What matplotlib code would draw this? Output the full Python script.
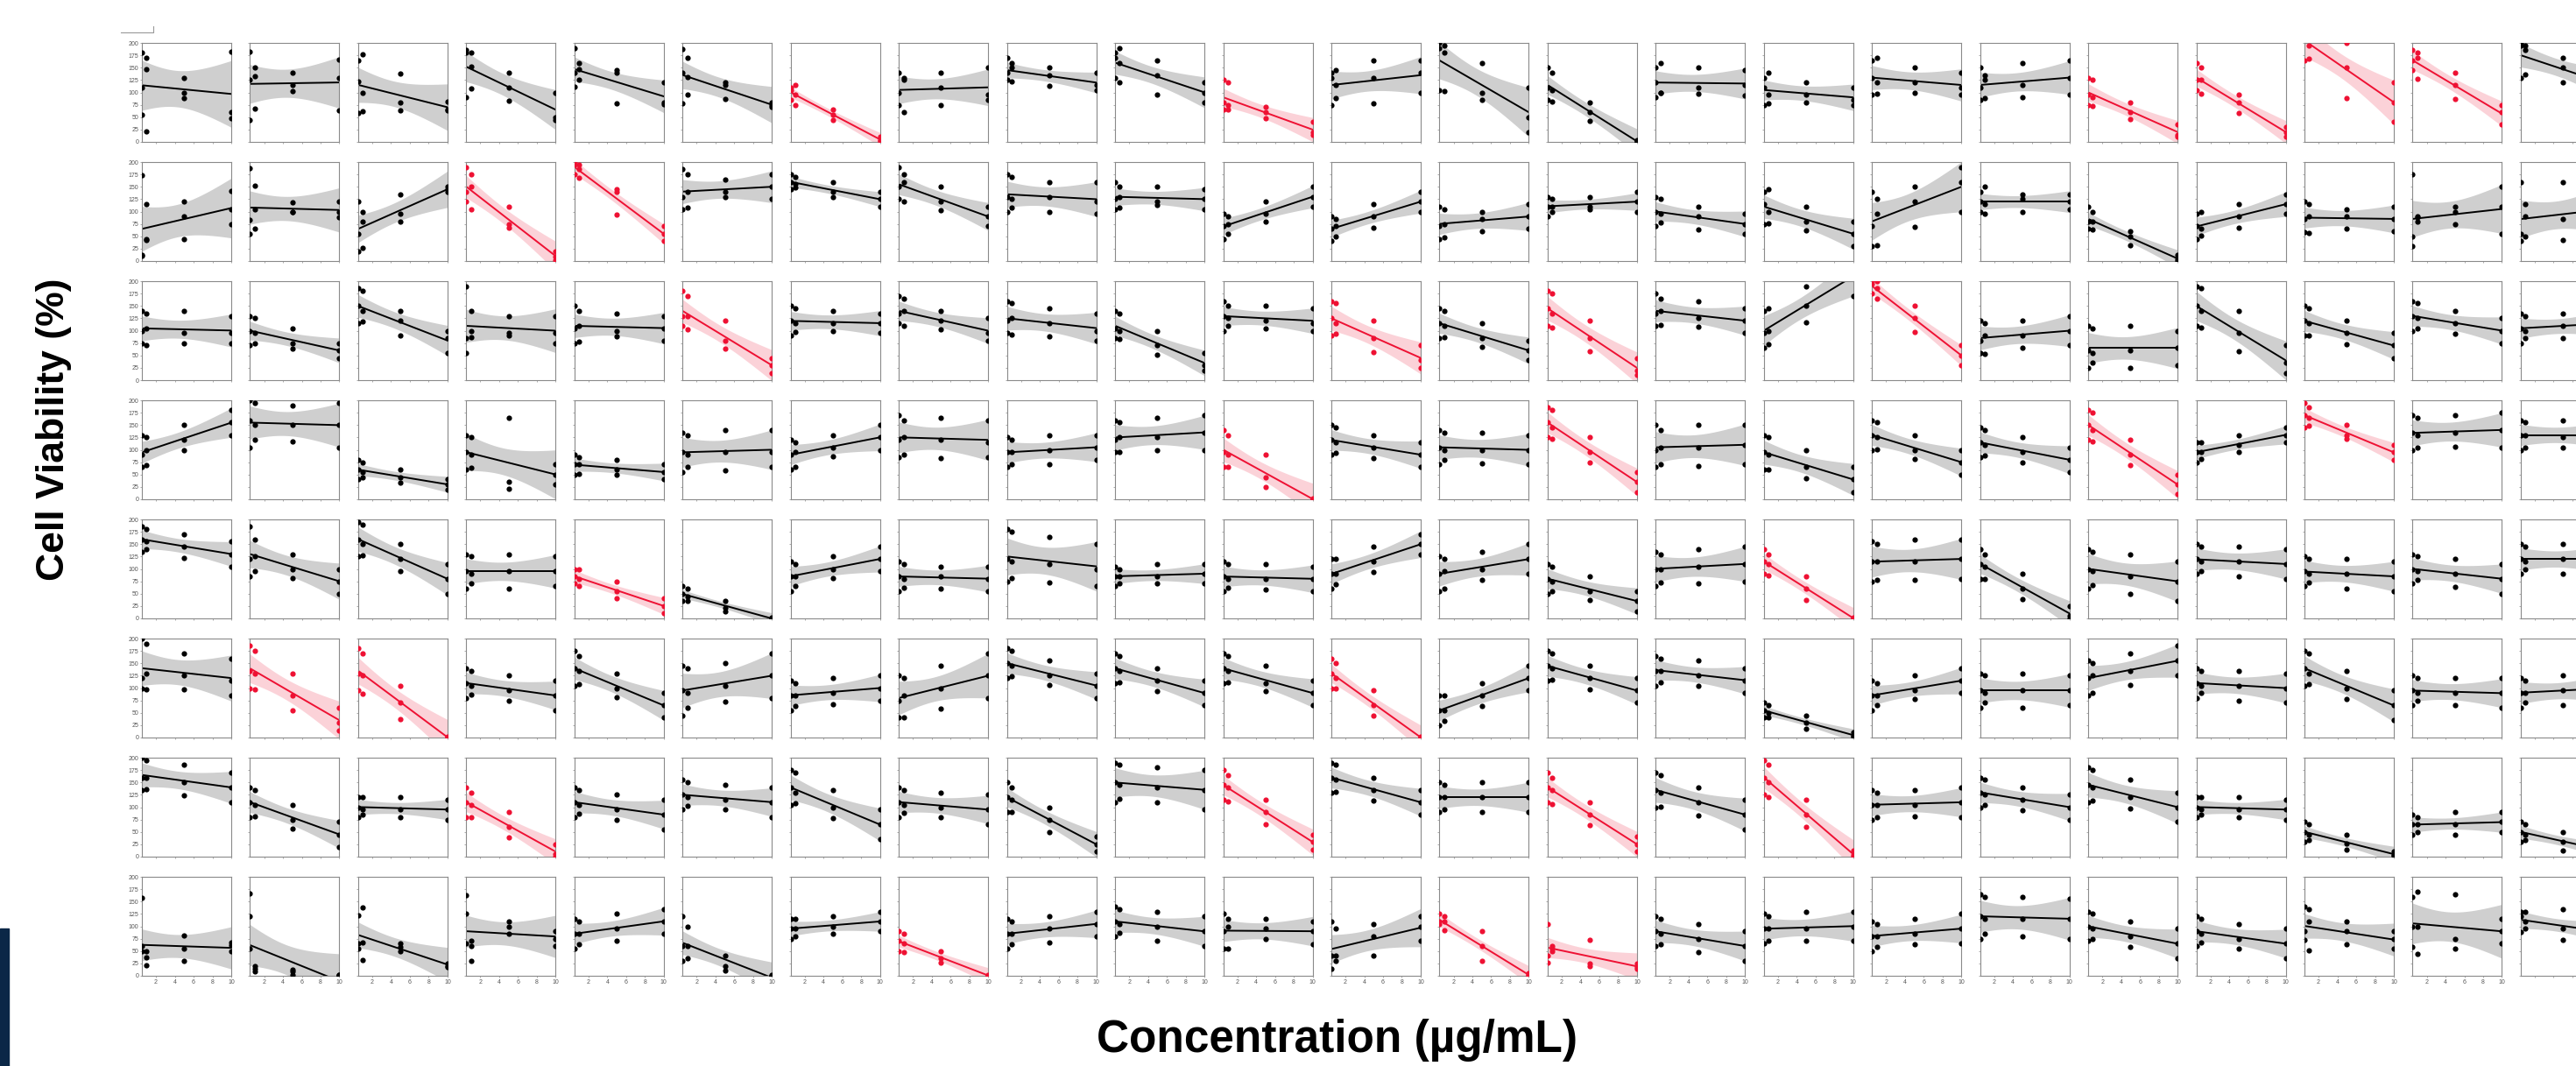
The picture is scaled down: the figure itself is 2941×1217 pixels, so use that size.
import numpy as np
import matplotlib
matplotlib.use("Agg")
import matplotlib.pyplot as plt
from matplotlib.patches import Rectangle
from matplotlib.lines import Line2D

# concentrations (µg/mL), 3 replicate wells each
conc = [0.5, 1, 5, 10]
n_rep = 3
y_ticks = [0, 25, 50, 75, 100, 125, 150, 175, 200]
x_ticks = [2, 4, 6, 8, 10]

# cell viability (%) per panel: 3 values at 0.5 | 1 | 5 | 10 µg/mL
row1 = ["180 110 55 | 147 170 22 | 100 88 130 | 183 60 48",
        "182 125 45 | 150 133 68 | 115 103 139 | 167 130 63",
        "165 122 58 | 177 100 62 | 138 80 64 | 82 65 63",
        "185 180 91 | 153 180 108 | 110 140 83 | 100 45 50",
        "190 140 111 | 125 160 147 | 145 140 78 | 120 80 76",
        "188 140 77 | 95 170 131 | 120 115 86 | 80 75 70",
        "110 105 85 | 115 95 75 | 65 55 45 | 10 3 2",
        "140 100 75 | 130 60 125 | 140 110 74 | 150 95 85",
        "170 140 125 | 160 150 122 | 135 150 114 | 140 115 105",
        "180 170 130 | 190 160 121 | 165 135 96 | 120 100 80",
        "125 80 65 | 120 75 66 | 70 60 47 | 40 20 15",
        "140 130 75 | 145 115 88 | 165 130 77 | 165 140 100",
        "200 190 105 | 195 180 102 | 160 100 85 | 110 50 20",
        "150 110 85 | 140 105 82 | 80 60 43 | 3 1 0",
        "150 120 90 | 160 100 100 | 150 110 97 | 145 115 94",
        "130 110 75 | 140 95 77 | 120 95 79 | 110 85 75",
        "165 130 95 | 170 120 97 | 150 120 99 | 140 110 95",
        "150 110 85 | 135 125 88 | 160 115 91 | 165 130 95",
        "130 95 75 | 125 90 73 | 80 60 46 | 35 15 10",
        "160 125 105 | 150 125 97 | 95 80 59 | 30 20 10",
        "240 210 165 | 230 195 169 | 200 150 88 | 120 80 40",
        "185 165 145 | 180 170 127 | 140 115 87 | 75 60 36",
        "200 195 130 | 195 185 136 | 170 150 121 | 140 110 95"]
row2 = ["173 12 10 | 115 42 44 | 120 90 45 | 142 105 74",
        "187 83 54 | 153 105 65 | 118 100 100 | 120 100 89",
        "120 55 20 | 80 100 27 | 135 95 79 | 150 145 140",
        "190 140 120 | 175 150 104 | 110 75 67 | 20 8 2",
        "200 195 175 | 195 185 169 | 145 140 93 | 70 55 40",
        "185 130 105 | 175 140 108 | 165 140 130 | 175 150 125",
        "175 160 145 | 170 155 149 | 160 140 129 | 140 125 110",
        "190 150 125 | 175 160 121 | 150 120 102 | 110 90 70",
        "175 130 100 | 170 125 108 | 160 130 100 | 160 120 95",
        "160 125 105 | 150 130 108 | 150 120 113 | 145 125 105",
        "95 70 45 | 90 75 54 | 120 95 79 | 150 130 110",
        "90 65 40 | 85 70 49 | 115 90 68 | 140 120 100",
        "110 70 45 | 105 75 48 | 100 85 61 | 115 90 65",
        "130 110 90 | 125 110 100 | 130 110 105 | 140 120 100",
        "130 100 70 | 125 95 77 | 110 90 64 | 95 75 55",
        "140 115 75 | 145 100 76 | 110 80 62 | 80 55 30",
        "140 70 30 | 125 95 32 | 150 120 69 | 190 160 100",
        "140 120 100 | 150 115 95 | 135 125 100 | 135 120 105",
        "110 80 65 | 100 80 63 | 60 50 31 | 12 3 0",
        "95 70 45 | 100 65 51 | 115 90 68 | 135 115 95",
        "120 85 59 | 115 90 56 | 105 90 65 | 110 85 60",
        "175 50 30 | 90 80 88 | 110 100 75 | 150 110 55",
        "160 55 40 | 115 90 50 | 160 85 43 | 130 105 80"]
row3 = ["140 100 75 | 135 105 71 | 140 95 75 | 130 95 75",
        "130 100 70 | 125 95 74 | 105 75 63 | 75 60 45",
        "185 150 115 | 180 140 118 | 140 120 91 | 100 85 55",
        "190 85 55 | 140 100 87 | 130 95 90 | 130 95 75",
        "150 105 75 | 140 110 77 | 135 100 89 | 130 105 80",
        "180 130 110 | 170 130 102 | 120 80 64 | 45 30 15",
        "150 120 90 | 145 115 97 | 140 115 99 | 135 115 95",
        "170 135 115 | 165 140 109 | 140 120 103 | 125 95 80",
        "160 120 95 | 155 125 92 | 145 115 88 | 135 100 80",
        "140 105 85 | 135 100 83 | 100 70 52 | 55 30 20",
        "160 130 100 | 150 125 110 | 150 120 105 | 145 115 100",
        "160 125 90 | 155 115 93 | 120 85 56 | 70 40 25",
        "145 115 85 | 140 110 86 | 115 85 67 | 80 60 40",
        "180 145 110 | 175 135 107 | 120 85 59 | 45 20 10",
        "175 135 110 | 165 140 112 | 160 125 108 | 145 120 95",
        "140 95 65 | 145 100 73 | 190 150 116 | 250 210 170",
        "200 195 175 | 200 185 164 | 150 125 97 | 70 50 30",
        "120 80 55 | 115 90 53 | 120 90 66 | 130 100 70",
        "110 60 25 | 105 55 35 | 110 60 25 | 100 65 30",
        "190 150 110 | 185 140 107 | 140 95 59 | 70 35 15",
        "150 120 90 | 145 115 91 | 120 95 73 | 95 70 45",
        "160 130 100 | 155 125 104 | 140 115 93 | 125 100 75",
        "135 105 75 | 130 100 85 | 135 110 85 | 140 115 90"]
row4 = ["130 90 65 | 125 100 69 | 150 120 99 | 180 155 130",
        "200 160 105 | 195 150 120 | 190 150 116 | 195 150 105",
        "80 60 40 | 75 55 44 | 60 45 33 | 40 30 20",
        "130 95 60 | 125 90 64 | 165 35 22 | 70 50 30",
        "90 70 50 | 85 70 52 | 80 60 49 | 70 55 40",
        "135 95 55 | 130 90 65 | 140 95 58 | 140 95 65",
        "120 90 60 | 115 95 66 | 130 105 86 | 150 125 100",
        "170 120 85 | 160 125 90 | 165 120 83 | 160 115 85",
        "125 95 65 | 120 95 70 | 130 100 70 | 130 105 80",
        "160 120 95 | 155 125 95 | 165 125 100 | 170 135 100",
        "140 95 65 | 130 90 65 | 90 45 24 | 2 0 0",
        "150 120 90 | 145 115 94 | 130 105 83 | 115 90 65",
        "140 105 70 | 135 100 80 | 135 100 72 | 130 100 70",
        "185 155 125 | 180 145 122 | 125 95 74 | 55 35 15",
        "150 100 65 | 140 105 70 | 150 105 68 | 150 110 70",
        "130 95 60 | 125 90 61 | 100 65 42 | 65 40 15",
        "160 130 100 | 155 125 101 | 130 100 82 | 100 75 50",
        "145 115 85 | 140 110 89 | 125 95 74 | 105 80 55",
        "180 150 120 | 175 140 117 | 120 90 69 | 50 30 10",
        "115 95 75 | 115 95 81 | 130 110 96 | 145 130 115",
        "195 170 145 | 185 165 148 | 150 130 122 | 110 95 80",
        "170 135 100 | 165 130 105 | 170 135 107 | 175 140 105",
        "160 130 100 | 155 130 105 | 160 125 105 | 155 130 105"]
row5 = ["185 160 135 | 180 155 139 | 170 145 123 | 155 130 105",
        "185 120 85 | 160 125 96 | 130 100 82 | 100 75 50",
        "195 160 125 | 190 150 128 | 150 120 96 | 110 80 50",
        "130 95 60 | 125 90 70 | 130 95 60 | 125 95 65",
        "100 85 70 | 100 80 66 | 75 55 41 | 40 25 10",
        "65 50 35 | 60 45 36 | 35 22 15 | 2 0 0",
        "115 85 55 | 110 85 66 | 125 100 81 | 145 120 95",
        "115 85 55 | 110 80 62 | 105 85 60 | 105 80 55",
        "180 120 75 | 175 115 82 | 165 110 73 | 150 100 65",
        "105 85 65 | 100 85 70 | 110 85 70 | 110 90 70",
        "115 85 55 | 110 80 62 | 110 80 58 | 105 80 55",
        "120 90 60 | 120 90 69 | 145 115 94 | 170 150 130",
        "125 90 55 | 120 95 61 | 135 100 77 | 150 120 90",
        "110 80 50 | 105 75 54 | 85 55 37 | 55 35 15",
        "135 100 65 | 130 100 72 | 140 105 70 | 145 110 75",
        "140 115 90 | 130 110 87 | 85 60 38 | 2 0 0",
        "155 115 75 | 150 115 78 | 160 115 78 | 160 120 80",
        "140 110 80 | 130 105 80 | 90 60 39 | 25 5 0",
        "140 100 60 | 135 95 67 | 130 85 49 | 115 75 35",
        "150 120 90 | 145 115 95 | 145 115 85 | 140 110 80",
        "125 95 65 | 120 90 72 | 120 90 60 | 115 85 55",
        "130 100 70 | 125 95 77 | 120 90 63 | 110 80 50",
        "150 120 90 | 145 115 100 | 150 120 90 | 150 120 90"]
row6 = ["200 120 100 | 190 130 97 | 170 125 98 | 160 115 85",
        "185 135 100 | 175 130 97 | 130 85 55 | 60 30 15",
        "180 130 95 | 170 125 89 | 105 70 38 | 2 0 0",
        "140 110 80 | 135 105 87 | 125 95 74 | 115 85 55",
        "175 140 105 | 165 135 108 | 130 100 82 | 90 65 40",
        "145 95 45 | 140 90 61 | 150 105 72 | 170 125 80",
        "115 85 55 | 110 85 64 | 120 90 67 | 125 100 75",
        "125 75 40 | 120 85 41 | 145 100 58 | 170 125 80",
        "180 150 120 | 175 145 124 | 155 125 107 | 130 105 80",
        "170 140 110 | 165 135 111 | 140 115 93 | 115 90 65",
        "170 140 110 | 165 135 111 | 145 110 93 | 115 90 65",
        "160 130 100 | 150 120 99 | 95 65 44 | 2 0 0",
        "85 55 25 | 85 55 34 | 110 85 63 | 145 120 95",
        "175 145 115 | 170 140 116 | 145 120 98 | 120 95 70",
        "165 135 105 | 160 135 112 | 155 125 105 | 140 115 90",
        "70 55 40 | 65 50 41 | 45 30 18 | 10 4 1",
        "115 85 55 | 110 85 66 | 125 95 77 | 140 115 90",
        "130 95 60 | 125 90 70 | 130 95 60 | 125 95 65",
        "155 120 85 | 150 125 91 | 170 135 106 | 185 155 125",
        "140 110 80 | 135 105 90 | 135 105 75 | 130 100 70",
        "175 140 105 | 170 130 108 | 135 100 77 | 95 65 35",
        "125 95 65 | 120 90 75 | 120 90 65 | 120 90 60",
        "120 90 60 | 115 90 70 | 125 95 65 | 130 100 70"]
row7 = ["200 160 135 | 195 160 137 | 185 150 124 | 170 140 110",
        "140 110 80 | 135 105 81 | 105 75 57 | 70 45 20",
        "120 100 80 | 120 95 85 | 120 95 80 | 115 95 75",
        "140 110 80 | 130 105 80 | 90 60 39 | 25 5 0",
        "140 110 80 | 135 105 87 | 125 95 74 | 115 85 55",
        "155 125 95 | 150 120 103 | 145 115 95 | 140 110 80",
        "175 140 105 | 170 130 108 | 135 100 77 | 95 65 35",
        "140 110 80 | 135 105 89 | 130 100 80 | 125 95 65",
        "150 120 90 | 140 115 90 | 100 75 50 | 40 25 10",
        "190 150 110 | 185 145 117 | 180 140 109 | 175 135 95",
        "175 145 115 | 165 140 112 | 115 90 65 | 45 30 15",
        "190 160 130 | 185 155 131 | 160 135 113 | 135 110 85",
        "150 120 90 | 145 120 95 | 150 120 90 | 150 120 90",
        "170 140 110 | 160 135 107 | 110 85 63 | 40 25 10",
        "170 135 100 | 165 130 101 | 140 110 83 | 115 85 55",
        "195 160 125 | 185 150 121 | 115 85 61 | 12 3 0",
        "135 105 75 | 130 105 80 | 135 105 81 | 140 110 80",
        "160 130 100 | 155 125 104 | 140 115 93 | 125 100 75",
        "180 145 110 | 175 140 114 | 155 120 97 | 130 100 70",
        "120 100 80 | 120 95 85 | 120 95 80 | 115 95 75",
        "70 50 30 | 65 45 34 | 45 27 15 | 10 4 1",
        "85 65 45 | 80 65 50 | 90 65 45 | 90 70 50",
        "70 50 30 | 65 45 34 | 50 30 13 | 20 8 2"]
row8 = ["157 60 50 | 50 37 22 | 82 55 30 | 67 62 50",
        "167 120 55 | 20 15 8 | 12 8 2 | 2 1 0",
        "122 65 55 | 138 68 32 | 65 58 50 | 25 18 20",
        "162 125 65 | 70 60 30 | 110 100 85 | 90 75 60",
        "115 85 55 | 110 85 63 | 125 95 71 | 135 110 85",
        "120 60 30 | 100 60 35 | 40 20 10 | 2 0 0",
        "115 95 75 | 115 95 80 | 120 100 85 | 130 110 90",
        "90 70 50 | 85 65 48 | 50 35 26 | 2 0 0",
        "115 85 55 | 110 85 63 | 120 95 67 | 130 105 80",
        "140 110 80 | 135 105 87 | 130 100 70 | 120 90 60",
        "125 90 55 | 115 55 100 | 115 95 75 | 110 90 64",
        "110 40 15 | 95 40 30 | 105 80 40 | 120 100 71",
        "125 110 104 | 120 110 92 | 90 60 30 | 5 1 0",
        "105 40 26 | 60 55 50 | 72 25 20 | 25 18 14",
        "120 90 60 | 115 85 64 | 105 75 48 | 90 60 30",
        "125 95 65 | 120 95 70 | 130 95 70 | 130 100 70",
        "110 80 50 | 105 80 58 | 115 85 64 | 125 95 65",
        "165 120 75 | 160 115 85 | 160 115 80 | 155 115 75",
        "130 100 70 | 125 95 74 | 110 80 59 | 95 65 35",
        "120 90 60 | 115 85 67 | 105 75 54 | 95 65 35",
        "140 90 73 | 135 110 51 | 110 90 64 | 90 75 54",
        "160 100 58 | 170 100 45 | 165 75 54 | 115 90 65",
        "130 120 89 | 130 110 96 | 135 95 73 | 100 90 71"]
rows = [row1, row2, row3, row4, row5, row6, row7, row8]

# panels whose fit is drawn in red (0-based column per row)
red_cols = [[6, 10, 18, 19, 20, 21], [3, 4], [5, 11, 13, 16], [10, 13, 18, 20],
            [4, 15], [1, 2, 11], [3, 10, 13, 15], [7, 12, 13]]

W, H = 2941, 1217
fig = plt.figure(figsize=(W / 100, H / 100), dpi=100)
plt.rcParams['font.family'] = ['Liberation Sans', 'DejaVu Sans']

xs = np.repeat(conc, n_rep)
grid = np.linspace(0.5, 10, 100)
t_crit = 2.228
red = '#ee1133'

for r, row in enumerate(rows):
    for c, txt in enumerate(row):
        y = np.array(txt.replace('|', ' ').split(), dtype=float)
        left = 162 + 123.45 * c
        top = 49 + 136 * r
        ax = fig.add_axes([left / W, 1 - (top + 113) / H, 102 / W, 113 / H])
        col = red if c in red_cols[r] else 'black'

        b1, b0 = np.polyfit(xs, y, 1)
        fit = b0 + b1 * grid
        n = len(y)
        resid = y - (b0 + b1 * xs)
        s = np.sqrt(np.sum(resid ** 2) / (n - 2))
        sxx = np.sum((xs - xs.mean()) ** 2)
        se = s * np.sqrt(1 / n + (grid - xs.mean()) ** 2 / sxx)

        ax.fill_between(grid, fit - t_crit * se, fit + t_crit * se,
                        color=col, alpha=0.19, lw=0)
        ax.plot(grid, fit, color=col, lw=1.4)
        ax.scatter(xs, y, s=20, color=col, lw=0, zorder=3)

        ax.set_xlim(0.5, 10)
        ax.set_ylim(0, 200)
        ax.set_xticks(x_ticks)
        ax.set_yticks(y_ticks)
        ax.tick_params(length=1.6, width=0.5, color='#888888',
                       labelsize=5, labelcolor='#555555', pad=1)
        if c != 0:
            ax.set_yticklabels([])
        if r != len(rows) - 1 or c == len(row) - 1:
            ax.set_xticklabels([])
        for sp in ax.spines.values():
            sp.set_color('#8a8a8a')
            sp.set_linewidth(0.8)

fig.text(62 / W, 1 - 490 / H, 'Cell Viability (%)', rotation=90,
         ha='center', va='center', fontsize=32, fontweight='bold')
fig.text(1526 / W, 1 - 1188 / H, 'Concentration (µg/mL)',
         ha='center', va='center', fontsize=37, fontweight='bold')

# dark bar at bottom-left edge and small frame remnant at top-left
fig.patches.append(Rectangle((0, 0), 10 / W, 157 / H, transform=fig.transFigure,
                             color='#0b2747', zorder=5))
fig.lines.append(Line2D([138 / W, 175 / W, 175 / W],
                        [1 - 37 / H, 1 - 37 / H, 1 - 30 / H],
                        transform=fig.transFigure, color='#999999', lw=0.8))

fig.savefig('out.png', dpi=100)
